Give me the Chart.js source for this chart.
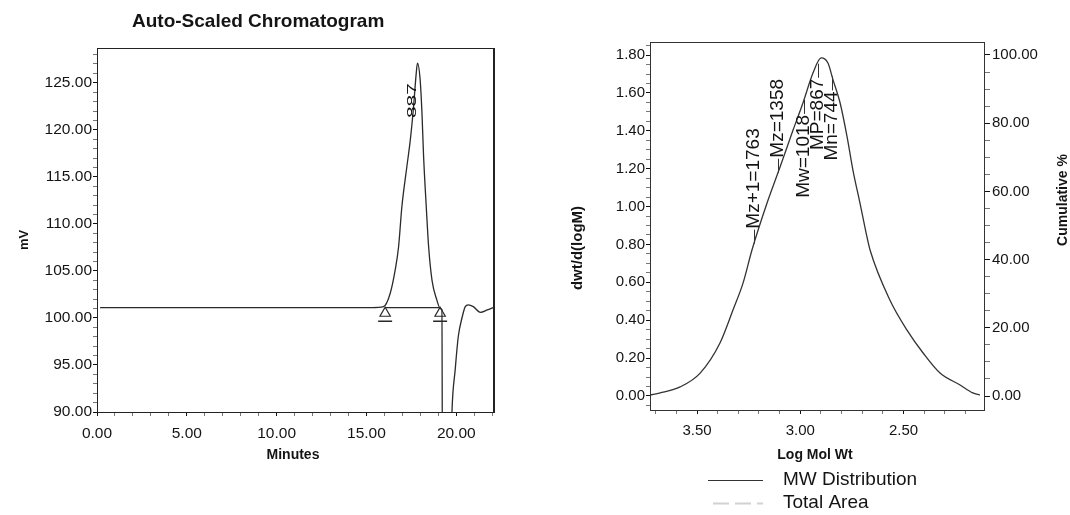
<!DOCTYPE html>
<html>
<head>
<meta charset="utf-8">
<script src="https://cdn.jsdelivr.net/npm/chart.js@4.4.1/dist/chart.umd.min.js"></script>
<style>
html,body{margin:0;padding:0;background:#fff;}
#wrap{position:relative;width:1070px;height:515px;overflow:hidden;background:#fff;}
#c1{position:absolute;left:0;top:0;}
#c2{position:absolute;left:520px;top:0;}
</style>
</head>
<body>
<div id="wrap">
<canvas id="c1" width="520" height="515"></canvas>
<canvas id="c2" width="550" height="515"></canvas>
</div>
<script>
// ---------------- data : chromatogram ----------------
const chromTime = [0.17, 2, 4, 6, 8, 10, 12, 14, 15.3, 15.95, 16.32, 16.6, 16.79, 16.97, 17.25, 17.44, 17.62, 17.77, 17.84, 17.99, 18.09, 18.18, 18.33, 18.46, 18.65, 18.92, 19.11, 19.2, 19.23, 19.7, 19.76, 19.94, 20.11, 20.33, 20.5, 20.67, 20.95, 21.34, 21.73, 22.06];
const chromMV   = [101.1, 101.1, 101.1, 101.1, 101.1, 101.1, 101.1, 101.1, 101.1, 101.2, 102.6, 105.1, 107.6, 111.8, 116.1, 118.9, 122.4, 126.0, 127.1, 125.3, 121.8, 117.2, 111.8, 107.6, 104.0, 101.9, 101.0, 100.9, 85, 85, 90, 94.5, 98.0, 100.1, 101.2, 101.4, 101.2, 100.6, 100.85, 101.1];
const peakName = '887';
const markerTime = [16.04, 19.1];
const markerMV = [100.5, 100.5];
const markerBarMV = [99.65, 99.65];
const intBaseMV = [101.1, 101.1];
const chromXMajor = [0, 5, 10, 15, 20];
const chromYMajor = [90, 95, 100, 105, 110, 115, 120, 125];

// ---------------- data : MW distribution ----------------
const mwLogM = [2.13, 2.164, 2.226, 2.323, 2.405, 2.483, 2.566, 2.662, 2.677, 2.711, 2.745, 2.773, 2.807, 2.841, 2.866, 2.899, 2.938, 2.987, 3.035, 3.098, 3.161, 3.234, 3.277, 3.326, 3.389, 3.485, 3.582, 3.679, 3.728];
const mwDist = [0.005, 0.016, 0.058, 0.121, 0.227, 0.348, 0.507, 0.771, 0.84, 1.019, 1.193, 1.367, 1.547, 1.668, 1.758, 1.785, 1.706, 1.547, 1.404, 1.209, 1.019, 0.771, 0.597, 0.454, 0.28, 0.121, 0.048, 0.016, 0.005];
const avgNames = ['Mz+1', 'Mz', 'Mw', 'MP', 'Mn'];
const avgValues = [1763, 1358, 1018, 867, 744];
const avgSide = ['above', 'above', 'below', 'below', 'below'];
const mwXMajor = [2.5, 3.0, 3.5];
const mwYMajor = [0, 0.2, 0.4, 0.6, 0.8, 1.0, 1.2, 1.4, 1.6, 1.8];
const cumYMajor = [0, 20, 40, 60, 80, 100];

// ---------------- helpers ----------------
const FAM = '"Liberation Sans", Arial, Helvetica, sans-serif';
Chart.defaults.font.family = FAM;
Chart.defaults.color = '#141414';
const isMajor = (v, list) => list.some(m => Math.abs(m - v) < 1e-6);
const fmt = list => (v) => isMajor(v, list) ? (Math.round(v * 100) / 100).toFixed(2) : '';
const tickCol = list => (c) => (c.tick && isMajor(c.tick.value, list)) ? '#111' : '#777';

function drawText(ctx, t) {
  ctx.save();
  ctx.font = t.font;
  ctx.fillStyle = t.color || '#141414';
  ctx.textAlign = t.align || 'center';
  ctx.textBaseline = 'middle';
  ctx.translate(t.x, t.y);
  if (t.rotate) ctx.rotate(t.rotate);
  ctx.fillText(t.text, 0, 0);
  ctx.restore();
}

const framePlugin = {
  id: 'frame',
  afterDatasetsDraw(chart, args, opts) {
    const {ctx, chartArea: a} = chart;
    ctx.save();
    ctx.strokeStyle = opts.color || '#222';
    ctx.lineWidth = 1;
    ctx.strokeRect(Math.round(a.left) + 0.5, Math.round(a.top) + 0.5, Math.round(a.right - a.left), Math.round(a.bottom - a.top));
    if (opts.rightWidth) {
      ctx.lineWidth = opts.rightWidth;
      ctx.beginPath();
      ctx.moveTo(a.right, a.top);
      ctx.lineTo(a.right, a.bottom);
      ctx.stroke();
    }
    ctx.restore();
  }
};

const textPlugin = {
  id: 'texts',
  afterDraw(chart, args, opts) {
    (opts.items || []).forEach(t => drawText(chart.ctx, t));
  }
};

// peak label for chromatogram
const peakLabelPlugin = {
  id: 'peakLabel',
  afterDatasetsDraw(chart) {
    const {ctx, scales: {x, y}} = chart;
    let k = 0;
    chromMV.forEach((v, i) => { if (v > chromMV[k]) k = i; });
    const px = x.getPixelForValue(chromTime[k]);
    const py = y.getPixelForValue(chromMV[k]);
    ctx.save();
    ctx.fillStyle = '#141414';
    ctx.font = '21px ' + FAM;
    ctx.translate(px - 5, py + 20);
    ctx.rotate(-Math.PI / 2);
    ctx.scale(1, 0.62);
    ctx.textAlign = 'right';
    ctx.textBaseline = 'middle';
    ctx.fillText(peakName, 0, 0);
    ctx.restore();
  }
};

function interpDist(lx) {
  for (let i = 0; i < mwLogM.length - 1; i++) {
    if (lx >= mwLogM[i] && lx <= mwLogM[i + 1]) {
      const f = (lx - mwLogM[i]) / (mwLogM[i + 1] - mwLogM[i]);
      return mwDist[i] + f * (mwDist[i + 1] - mwDist[i]);
    }
  }
  return 0;
}

const avgLabelPlugin = {
  id: 'avgLabels',
  afterDatasetsDraw(chart) {
    const {ctx, scales: {x, y}} = chart;
    const labelShift = 5;
    ctx.save();
    ctx.font = '19px ' + FAM;
    ctx.fillStyle = '#141414';
    ctx.strokeStyle = '#333';
    ctx.lineWidth = 1;
    avgNames.forEach((n, i) => {
      const px = Math.round(x.getPixelForValue(Math.log10(avgValues[i])) + labelShift);
      const v = interpDist(x.getValueForPixel(px));
      const py = y.getPixelForValue(v);
      const up = avgSide[i] === 'above';
      const end = up ? py - 14 : py + 14;
      ctx.beginPath();
      ctx.moveTo(px + 0.5, py);
      ctx.lineTo(px + 0.5, end);
      ctx.stroke();
      ctx.save();
      ctx.translate(px, end + (up ? -1 : 1));
      ctx.rotate(-Math.PI / 2);
      ctx.textAlign = up ? 'left' : 'right';
      ctx.textBaseline = 'middle';
      ctx.fillText(n + '=' + avgValues[i], 0, 0);
      ctx.restore();
    });
    ctx.restore();
  }
};

const legendPlugin = {
  id: 'customLegend',
  afterDraw(chart, args, opts) {
    const {ctx} = chart;
    chart.data.datasets.forEach((ds, i) => {
      const yy = opts.y + i * opts.gap;
      ctx.save();
      ctx.strokeStyle = ds.borderColor;
      ctx.lineWidth = ds.legendWidth || 1;
      ctx.setLineDash(ds.borderDash || []);
      ctx.beginPath();
      ctx.moveTo(opts.x0 + (ds.legendInset || 0), yy + 0.5);
      ctx.lineTo(opts.x1, yy + 0.5);
      ctx.stroke();
      ctx.restore();
      drawText(ctx, {text: ds.label, x: opts.tx, y: yy, font: opts.font, align: 'left'});
    });
  }
};

const tickFont = {family: FAM, size: 15.5};

// ---------------- chart 1 : chromatogram ----------------
new Chart(document.getElementById('c1'), {
  type: 'line',
  data: {
    datasets: [
      {
        label: 'Chromatogram',
        data: chromTime.map((t, i) => ({x: t, y: chromMV[i]})),
        borderColor: '#2a2a2a', borderWidth: 1.3, pointRadius: 0,
        cubicInterpolationMode: 'monotone', clip: 0
      },
      {
        label: 'Integration baseline',
        data: markerTime.map((t, i) => ({x: t, y: intBaseMV[i]})),
        borderColor: '#2a2a2a', borderWidth: 1.2, pointRadius: 0, clip: 0
      },
      {
        type: 'scatter', label: 'Peak marks',
        data: markerTime.map((t, i) => ({x: t, y: markerMV[i]})),
        pointStyle: 'triangle', pointRadius: 6, borderColor: '#2a2a2a',
        backgroundColor: '#fff', borderWidth: 1.2
      },
      {
        type: 'scatter', label: 'Peak mark base',
        data: markerTime.map((t, i) => ({x: t, y: markerBarMV[i]})),
        pointStyle: 'line', pointRadius: 7, borderColor: '#2a2a2a', borderWidth: 1.5
      }
    ]
  },
  options: {
    responsive: false, animation: false, devicePixelRatio: 1,
    layout: {padding: {left: 0, top: 48, right: 26, bottom: 53}},
    plugins: {
      legend: {display: false}, tooltip: {enabled: false},
      frame: {color: '#222', rightWidth: 2},
      texts: {items: [
        {text: 'Auto-Scaled Chromatogram', x: 132, y: 22, font: 'bold 19px ' + FAM, align: 'left'},
        {text: 'Minutes', x: 293, y: 455, font: 'bold 14px ' + FAM},
        {text: 'mV', x: 24, y: 240, font: 'bold 13px ' + FAM, rotate: -Math.PI / 2}
      ]}
    },
    scales: {
      x: {
        type: 'linear', min: 0, max: 22.1,
        afterFit: s => { s.height = 50; },
        ticks: {stepSize: 1, autoSkip: false, includeBounds: false, maxRotation: 0, padding: 8, font: tickFont, callback: fmt(chromXMajor)},
        grid: {drawOnChartArea: false, tickLength: 4, tickColor: tickCol(chromXMajor)},
        border: {color: '#111', width: 1}
      },
      y: {
        type: 'linear', min: 90, max: 128.7,
        afterFit: s => { s.width = 97; },
        ticks: {stepSize: 1, autoSkip: false, includeBounds: false, padding: 1, font: tickFont, callback: fmt(chromYMajor)},
        grid: {drawOnChartArea: false, tickLength: 4, tickColor: tickCol(chromYMajor)},
        border: {color: '#111', width: 1}
      }
    }
  },
  plugins: [framePlugin, peakLabelPlugin, textPlugin]
});

// ---------------- chart 2 : MW distribution ----------------
const tickFont2 = {family: FAM, size: 15};
new Chart(document.getElementById('c2'), {
  type: 'line',
  data: {
    datasets: [
      {
        label: 'MW Distribution',
        data: mwLogM.map((m, i) => ({x: m, y: mwDist[i]})),
        borderColor: '#333', borderWidth: 1.3, pointRadius: 0,
        cubicInterpolationMode: 'monotone', yAxisID: 'y', clip: 0, legendWidth: 1
      },
      {
        label: 'Total Area',
        data: [],
        borderColor: '#d2d2d2', borderWidth: 1, pointRadius: 0,
        yAxisID: 'y1', borderDash: [16, 6], legendWidth: 2, legendInset: 5
      }
    ]
  },
  options: {
    responsive: false, animation: false, devicePixelRatio: 1,
    layout: {padding: {left: 0, top: 42, right: 0, bottom: 52}},
    plugins: {
      legend: {display: false}, tooltip: {enabled: false},
      frame: {color: '#333'},
      customLegend: {x0: 188, x1: 243, tx: 263, y: 480, gap: 23, font: '19px ' + FAM},
      texts: {items: [
        {text: 'Log Mol Wt', x: 295, y: 455, font: 'bold 14px ' + FAM},
        {text: 'dwt/d(logM)', x: 58, y: 248, font: 'bold 15px ' + FAM, rotate: -Math.PI / 2},
        {text: 'Cumulative %', x: 543, y: 200, font: 'bold 14px ' + FAM, rotate: -Math.PI / 2}
      ]}
    },
    scales: {
      x: {
        type: 'linear', reverse: true, min: 2.11, max: 3.728,
        afterFit: s => { s.height = 53; },
        ticks: {stepSize: 0.1, autoSkip: false, includeBounds: false, maxRotation: 0, padding: 8, font: tickFont2, callback: fmt(mwXMajor)},
        grid: {drawOnChartArea: false, tickLength: 4, tickColor: tickCol(mwXMajor)},
        border: {color: '#222', width: 1}
      },
      y: {
        type: 'linear', position: 'left', min: -0.074, max: 1.869,
        afterFit: s => { s.width = 130; },
        ticks: {stepSize: 0.05, autoSkip: false, includeBounds: false, padding: 1, font: tickFont2, callback: fmt(mwYMajor)},
        grid: {drawOnChartArea: false, tickLength: 4, tickColor: tickCol(mwYMajor)},
        border: {color: '#222', width: 1}
      },
      y1: {
        type: 'linear', position: 'right', min: -4.1, max: 103.8,
        afterFit: s => { s.width = 86; },
        ticks: {stepSize: 5, autoSkip: false, includeBounds: false, padding: 2, font: tickFont2, callback: fmt(cumYMajor)},
        grid: {drawOnChartArea: false, tickLength: 6, tickColor: tickCol(cumYMajor)},
        border: {color: '#222', width: 1}
      }
    }
  },
  plugins: [framePlugin, avgLabelPlugin, legendPlugin, textPlugin]
});
</script>
</body>
</html>
